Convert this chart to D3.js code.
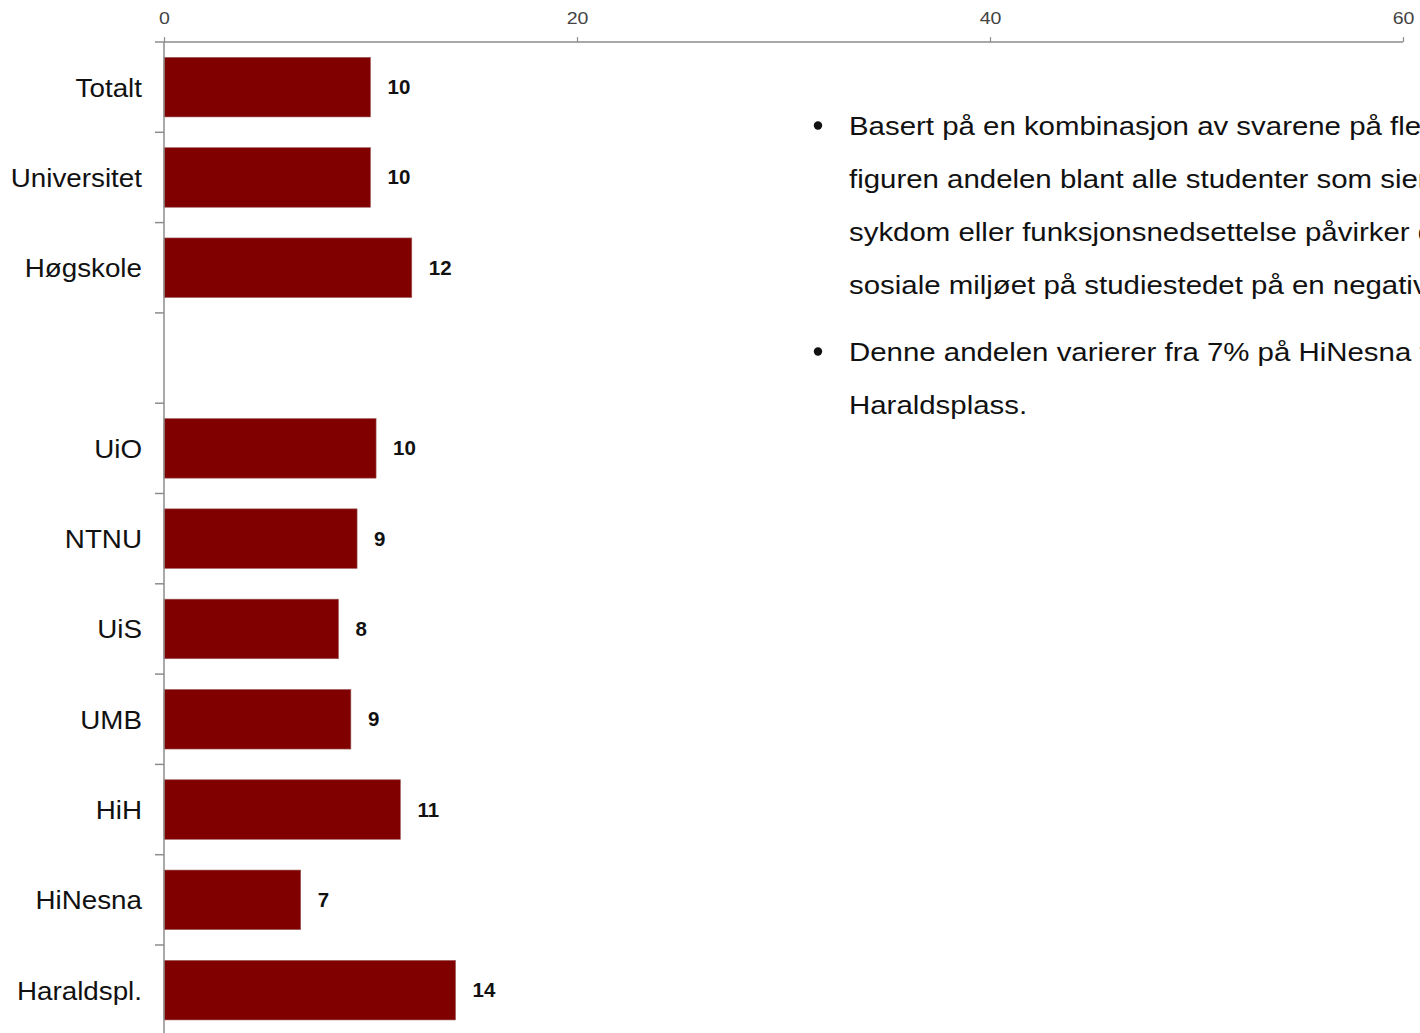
<!DOCTYPE html>
<html><head><meta charset="utf-8">
<script src="https://cdn.jsdelivr.net/npm/d3@7"></script>
<style>
html,body{margin:0;padding:0;background:#fff;overflow:hidden}
svg{display:block;font-family:"Liberation Sans",Arial,sans-serif}
</style></head>
<body>
<script>
const categories = ["Totalt","Universitet","Høgskole","","UiO","NTNU","UiS","UMB","HiH","HiNesna","Haraldspl."];
const values = [10.0, 10.0, 12.0, null, 10.27, 9.35, 8.45, 9.05, 11.45, 6.62, 14.12];
const valueLabels = ["10","10","12","","10","9","8","9","11","7","14"];
const xTicks = [0, 20, 40, 60];
const bulletLines = [
  ["Basert på en kombinasjon av svarene på flere spørsmål viser",
   "figuren andelen blant alle studenter som sier at de har en",
   "sykdom eller funksjonsnedsettelse påvirker deres forhold til det",
   "sosiale miljøet på studiestedet på en negativ måte."],
  ["Denne andelen varierer fra 7% på HiNesna til 14% på",
   "Haraldsplass."]
];

const W = 1420, H = 1033;
const svg = d3.select("body").append("svg").attr("width", W).attr("height", H);

const x = d3.scaleLinear().domain([0, 60]).range([164, 1403]);
const y = d3.scaleBand().domain(d3.range(categories.length)).range([42, 42 + 90.3 * categories.length]).paddingInner(0.34).paddingOuter(0.17);

const barData = values.map((v, i) => ({v, i})).filter(d => d.v !== null);

// bars
svg.append("g").selectAll("rect")
  .data(barData)
  .join("rect")
  .attr("x", x(0))
  .attr("y", d => y(d.i))
  .attr("width", d => x(d.v) - x(0))
  .attr("height", y.bandwidth())
  .attr("fill", "#800000")
  .attr("stroke", "#a06060")
  .attr("stroke-width", 0.6);

// value labels
svg.append("g").selectAll("text")
  .data(barData)
  .join("text")
  .attr("transform", d => `translate(${x(d.v) + 17},${y(d.i) + y.bandwidth() / 2 + 7}) scale(1.05,1)`)
  .attr("font-size", 19.5)
  .attr("font-weight", "bold")
  .attr("fill", "#111")
  .text(d => valueLabels[d.i]);

// x axis (top)
const xAxis = svg.append("g").attr("transform", "translate(0,42)")
  .call(d3.axisTop(x).tickValues(xTicks).tickSize(5).tickPadding(13).tickFormat(d3.format("d")));
xAxis.select(".domain").attr("stroke", "#8c8c8c").attr("stroke-width", 1.5).attr("d", `M${x(0)},0H${x(60)}`);
xAxis.selectAll(".tick line").attr("stroke", "#8c8c8c").attr("stroke-width", 1.2);
xAxis.selectAll(".tick text").attr("font-size", 17).attr("fill", "#444")
  .attr("font-family", "Liberation Sans, Arial, sans-serif")
  .attr("transform", "scale(1.15,1)");

// y axis: vertical line + boundary ticks
const bounds = d3.range(categories.length + 1).map(i => 42 + i * 90.3);
svg.append("line").attr("x1", x(0)).attr("x2", x(0)).attr("y1", 42).attr("y2", H)
  .attr("stroke", "#8c8c8c").attr("stroke-width", 1.5);
svg.append("g").selectAll("line").data(bounds).join("line")
  .attr("x1", x(0) - 9).attr("x2", x(0)).attr("y1", d => d).attr("y2", d => d)
  .attr("stroke", "#8c8c8c").attr("stroke-width", 1.5);

// category labels
svg.append("g").selectAll("text").data(categories.map((c, i) => ({c, i})).filter(d => d.c))
  .join("text")
  .attr("transform", d => `translate(142,${y(d.i) + y.bandwidth() / 2 + 9.5}) scale(1.09,1)`)
  .attr("text-anchor", "end")
  .attr("font-size", 25.5)
  .attr("fill", "#111")
  .text(d => d.c);

// bullet text
const tg = svg.append("g").attr("font-size", 26.5).attr("fill", "#111");
let lineY = 134.5;
bulletLines.forEach((lines) => {
  tg.append("circle").attr("cx", 818).attr("cy", lineY - 9).attr("r", 4.2).attr("fill", "#111");
  lines.forEach((l) => {
    tg.append("text").attr("transform", `translate(849,${lineY}) scale(1.11,1)`).text(l);
    lineY += 53;
  });
  lineY += 14;
});
</script>
</body></html>
